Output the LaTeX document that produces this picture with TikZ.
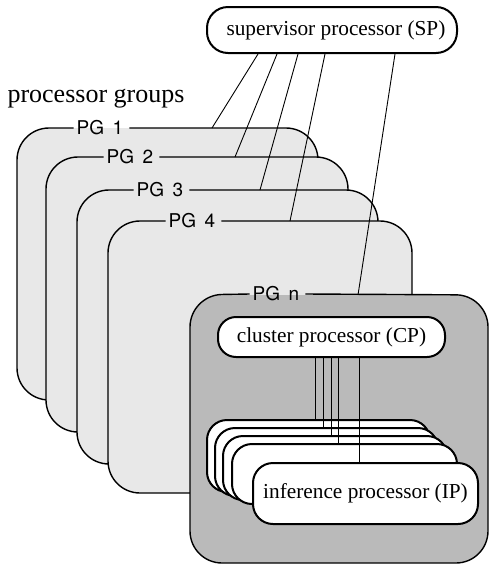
\documentclass[tikz,border=0pt]{standalone}
\usepackage{fontspec}
\setmainfont{Liberation Serif}
\newfontfamily\pgsans{TeX Gyre Heros}
\begin{document}
\begin{tikzpicture}[x=1pt,y=-1pt,
  pglight/.style={fill=black!9},
  pgdark/.style={fill=black!27},
  pgline/.style={line width=1.4pt, rounded corners=32},
  pglabel/.style={font=\pgsans\fontsize{19}{19}\selectfont, inner sep=0pt, outer sep=0pt},
  procbox/.style={draw, line width=2pt, fill=white, rounded corners=18, inner sep=0pt,
    font=\fontsize{21.3}{24}\selectfont},
  backbox/.style={draw, line width=2pt, fill=white, rounded corners=20, inner sep=0pt},
  wire/.style={line width=0.9pt}]
\useasboundingbox (0,0) rectangle (490,566);

\node[font=\fontsize{26}{30}\selectfont, inner sep=0pt] (pgtitle) at (96,99) {processor groups};

% PG 1
\fill[pglight, rounded corners=32] (17,128) rectangle (318,400);
\node[pglabel] (l1) at (100,128) {PG\hspace{0.45em}1};
\draw[pgline] ([xshift=6pt]l1.east) -- (318,128) -- (318,400) -- (17,400) -- (17,128) -- ([xshift=-3pt]l1.west);
% PG 2
\fill[pglight, rounded corners=32] (46,157) rectangle (348,432);
\node[pglabel] (l2) at (130,157) {PG\hspace{0.45em}2};
\draw[pgline] ([xshift=6pt]l2.east) -- (348,157) -- (348,432) -- (46,432) -- (46,157) -- ([xshift=-3pt]l2.west);
% PG 3
\fill[pglight, rounded corners=32] (77,190) rectangle (378,464);
\node[pglabel] (l3) at (160,190) {PG\hspace{0.45em}3};
\draw[pgline] ([xshift=6pt]l3.east) -- (378,190) -- (378,464) -- (77,464) -- (77,190) -- ([xshift=-3pt]l3.west);
% PG 4
\fill[pglight, rounded corners=32] (108,221) rectangle (412,493);
\node[pglabel] (l4) at (192,221) {PG\hspace{0.45em}4};
\draw[pgline] ([xshift=6pt]l4.east) -- (412,221) -- (412,493) -- (108,493) -- (108,221) -- ([xshift=-3pt]l4.west);
% PG n
\fill[pgdark, rounded corners=32] (190,295) rectangle (488,563);
\node[pglabel] (ln) at (276,294) {PG\hspace{0.45em}n};
\draw[pgline] ([xshift=6pt]ln.east) -- (488,295) -- (488,563) -- (190,563) -- (190,295) -- ([xshift=-3pt]ln.west);

% supervisor processor
\node[procbox, minimum width=250, minimum height=46, rounded corners=21] (sp) at (332,30) {\hspace{8pt}supervisor processor (SP)};

\coordinate (t1) at (212,128);
\coordinate (t2) at (235,157);
\coordinate (t3) at (260,190);
\coordinate (t4) at (290,221);
\coordinate (tn) at (358,295);
\draw[wire] (258,0 |- sp.south) -- (t1);
\draw[wire] (277,0 |- sp.south) -- (t2);
\draw[wire] (298,0 |- sp.south) -- (t3);
\draw[wire] (325,0 |- sp.south) -- (t4);
\draw[wire] (395,0 |- sp.south) -- (tn);

% cluster processor
\node[procbox, minimum width=227, minimum height=40] (cp) at (331.5,337) {cluster processor (CP)};

% inference processors
\node[backbox, minimum width=223, minimum height=72] (ib1) at (318.5,456) {};
\node[backbox, minimum width=223, minimum height=68] (ib2) at (326.5,462) {};
\node[backbox, minimum width=224, minimum height=64] (ib3) at (335,468) {};
\node[backbox, minimum width=225, minimum height=60] (ib4) at (344.5,474) {};
\node[procbox, minimum width=225, minimum height=61, rounded corners=20] (ip) at (365.5,493.5) {inference processor (IP)};

\draw[wire] (315,0 |- cp.south) -- (315,0 |- ib1.north);
\draw[wire] (323,0 |- cp.south) -- (323,0 |- ib2.north);
\draw[wire] (331,0 |- cp.south) -- (331,0 |- ib3.north);
\draw[wire] (338,0 |- cp.south) -- (338,0 |- ib4.north);
\draw[wire] (359,0 |- cp.south) -- (359,0 |- ip.north);
\end{tikzpicture}
\end{document}
